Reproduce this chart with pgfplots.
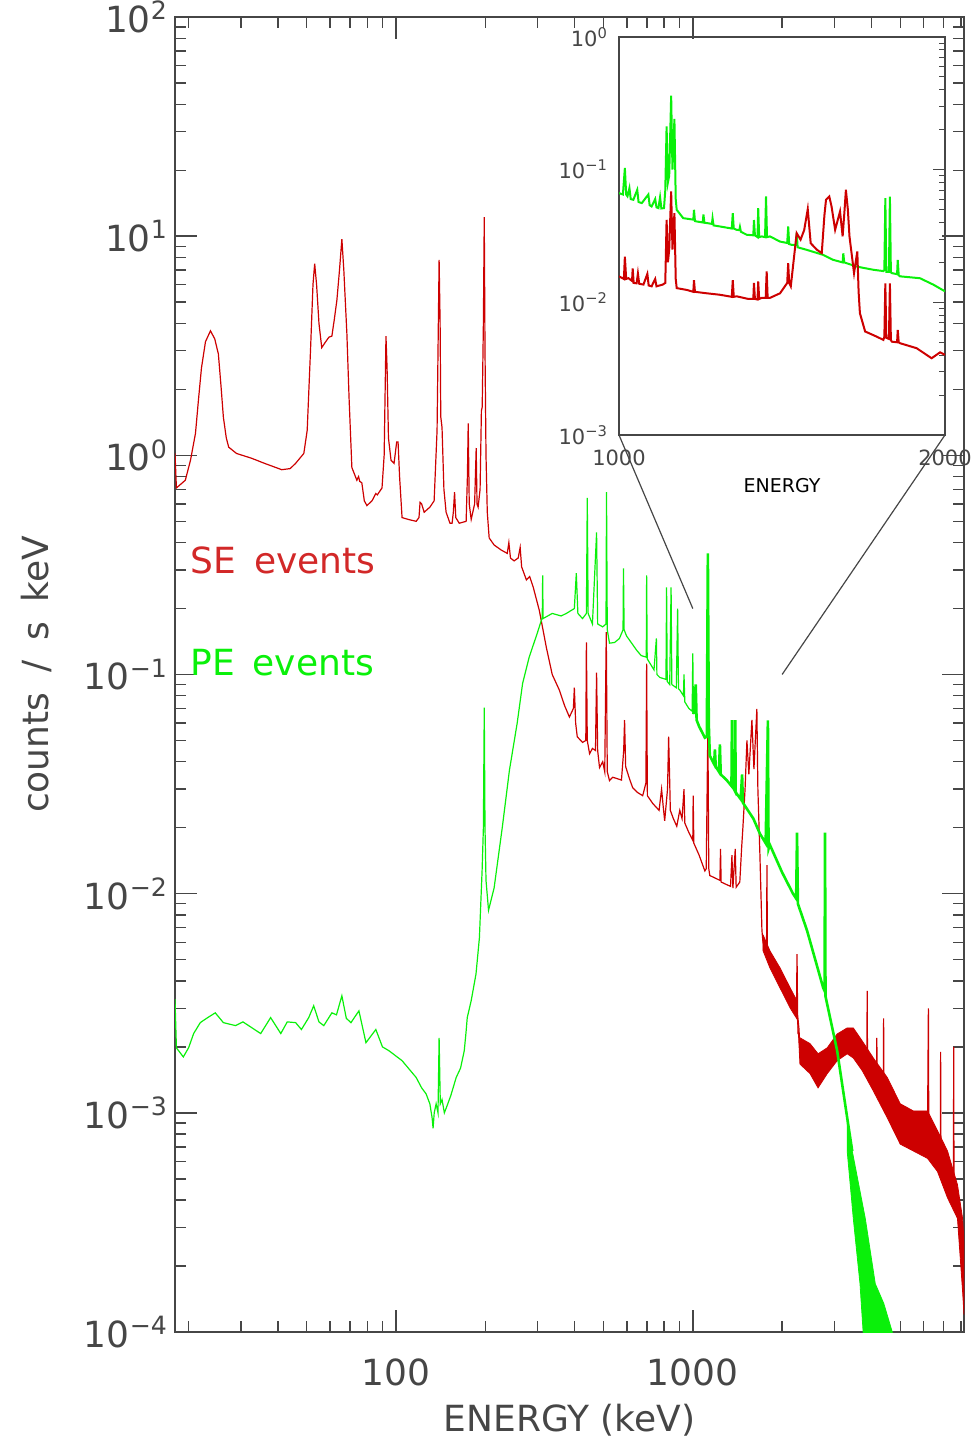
\documentclass[border=0pt]{standalone}
\usepackage{fontspec}
\setmainfont{DejaVu Sans}
\usepackage{pgfplots}
\pgfplotsset{compat=1.18}
\definecolor{sered}{RGB}{205,0,0}
\definecolor{setext}{RGB}{210,40,40}
\definecolor{pegreen}{RGB}{10,240,10}
\definecolor{axgray}{RGB}{70,70,70}

\begin{document}
\begin{tikzpicture}
\path[use as bounding box] (-87.5pt,-55pt) rectangle (401.5pt,666pt);

\begin{axis}[
  name=main,
  at={(0,0)}, anchor=south west,
  width=394.5pt, height=657.5pt, scale only axis,
  xmode=log, ymode=log,
  xmin=18, xmax=8200, ymin=1e-4, ymax=100,
  axis line style={axgray, line width=0.8pt},
  tick align=inside,
  major tick length=11pt, minor tick length=5.5pt,
  tick style={axgray, line width=0.7pt},
  xtick={100,1000}, xticklabels={100,1000},
  minor xtick={20,30,40,50,60,70,80,90,200,300,400,500,600,700,800,900,2000,3000,4000,5000,6000,7000,8000},
  ytick={1e-4,1e-3,0.01,0.1,1,10,100},
  yticklabels={10\textsuperscript{−4},10\textsuperscript{−3},10\textsuperscript{−2},10\textsuperscript{−1},10\textsuperscript{0},10\textsuperscript{1},10\textsuperscript{2}},
  minor ytick={2e-4,3e-4,4e-4,5e-4,6e-4,7e-4,8e-4,9e-4,
    0.002,0.003,0.004,0.005,0.006,0.007,0.008,0.009,
    0.02,0.03,0.04,0.05,0.06,0.07,0.08,0.09,
    0.2,0.3,0.4,0.5,0.6,0.7,0.8,0.9,
    2,3,4,5,6,7,8,9,20,30,40,50,60,70,80,90},
  ticklabel style={font=\fontsize{18}{20}\selectfont, text=axgray},
  xticklabel style={yshift=-10pt},
  xlabel={ENERGY (keV)}, ylabel={counts\hspace{0.55em}/\hspace{0.55em}s\hspace{0.55em}keV},
  label style={font=\fontsize{18}{20}\selectfont, text=axgray},
  xlabel style={at={(axis description cs:0.5,-0.067)}, anchor=center},
  ylabel style={at={(axis description cs:-0.175,0.5)}, anchor=center},
]

% SE events
\addplot[sered, line width=0.6pt] coordinates {
(18.0,1.02)(18.2,0.71)(19.5,0.77)(20.3,0.95)(21.1,1.26)(21.6,1.8)(22.1,2.5)(22.8,3.3)(23.7,3.7)(24.5,3.4)(25.2,2.9)(25.7,2.1)(26.2,1.49)(26.8,1.2)(27.3,1.09)(29,1.02)(32.6,0.97)(36,0.92)(41.2,0.86)(44,0.87)(45.9,0.92)(48.9,1.02)(50.2,1.3)(51.5,3)(52.5,6)(53.2,7.5)(54,6)(55,4)(56.2,3.1)(57.5,3.25)(59.4,3.46)(60.8,3.5)(62,4.2)(63.2,5.1)(64.5,7)(65.7,9.7)(66.7,7)(67.5,5)(68.3,3.6)(69.5,1.8)(71.0,0.88)(73.8,0.77)(74.8,0.8)(75.5,0.76)(76.7,0.75)(78.2,0.62)(79.8,0.59)(83,0.62)(85.5,0.67)(86.5,0.66)(89.7,0.71)(91.2,1.0)(92.5,3.5)(93.3,2.5)(94.3,1.2)(96.2,0.95)(98.5,0.92)(100.5,1.15)(101.6,1.15)(102.8,0.8)(104.8,0.52)(110,0.51)(116.9,0.50)(119.5,0.52)(120.5,0.61)(122,0.60)(124.4,0.55)(130,0.58)(134.4,0.62)(137.5,1.3)(139.7,7.8)(140.8,4)(141.5,1.5)(142.9,1.34)(145,0.7)(147.5,0.55)(152,0.49)(154.5,0.49)(156,0.55)(157.5,0.68)(159,0.52)(163.3,0.49)(172.3,0.50)(174,0.8)(175.1,1.40)(176.5,0.6)(179.2,0.51)(184,0.6)(186.3,1.08)(187.5,0.6)(189.1,0.58)(192,0.7)(194,1.6)(195.2,1.66)(197,4)(198.3,12.2)(199.5,3)(201,1)(203,0.55)(206,0.42)(214,0.39)(226,0.37)(237,0.357)(240,0.40)(243,0.34)(250,0.33)(258,0.34)(262,0.38)(265,0.31)(275,0.27)(282,0.28)(290,0.25)(304,0.196)(321,0.133)(336,0.10)(355,0.085)(370,0.072)(384,0.064)(396,0.07)(399,0.087)(403,0.06)(408,0.052)(425,0.049)(436,0.05)(438,0.14)(441,0.05)(449,0.0435)(459,0.046)(470,0.045)(474,0.102)(478,0.045)(485,0.0376)(497,0.040)(505,0.036)(511,0.156)(515,0.036)(524,0.0328)(537,0.034)(575,0.033)(585,0.045)(589,0.062)(594,0.038)(612,0.0334)(627,0.0305)(650,0.029)(678,0.028)(695,0.032)(699,0.112)(703,0.028)(733,0.0258)(770,0.024)(785,0.030)(795,0.025)(804,0.0215)(822,0.030)(829,0.052)(835,0.035)(840,0.024)(860,0.022)(883,0.0203)(904,0.024)(920,0.022)(934,0.030)(940,0.021)(970,0.019)(1000,0.0175)(1003,0.028)(1008,0.017)(1050,0.015)(1098,0.0127)(1110,0.013)(1124,0.058)(1132,0.013)(1141,0.0121)(1187,0.0118)(1234,0.0115)(1240,0.016)(1246,0.0113)(1300,0.011)(1340,0.0108)(1355,0.015)(1365,0.0106)(1390,0.016)(1400,0.0107)(1440,0.0113)(1460,0.016)(1475,0.020)(1500,0.030)(1522,0.050)(1545,0.035)(1582,0.062)(1607,0.037)(1644,0.0696)(1657,0.030)(1683,0.0152)(1710,0.0068)(1724,0.006)
};
% SE noise band at high energy
\addplot[sered, fill=sered, line width=0.4pt] coordinates {
(1724,0.0065)(1819,0.00549)(1967,0.00459)(2128,0.00372)(2245,0.00324)(2260,0.0023)(2296,0.0022)(2483,0.00207)(2643,0.00186)(2838,0.00198)(3065,0.00229)(3313,0.00244)(3474,0.00244)(3722,0.00213)(4057,0.00178)(4521,0.00145)(5000,0.0011)(5536,0.00102)(6178,0.00102)(6675,0.00083)(7214,0.00067)(7796,0.00047)(8110,0.00033)(8200,0.00026)
(8200,0.00012)(8110,0.000154)(7796,0.00033)(7214,0.00041)(6675,0.00054)(6178,0.00062)(5536,0.00067)(5000,0.00072)(4521,0.00095)(4057,0.00126)(3722,0.00156)(3474,0.00178)(3313,0.00186)(3065,0.00173)(2838,0.00151)(2643,0.0013)(2483,0.00151)(2296,0.00167)(2260,0.0026)(2245,0.00268)(2128,0.00301)(1967,0.00372)(1819,0.00459)(1724,0.0055)(1724,0.0065)
};
\addplot[sered, line width=0.6pt] coordinates {
(1724,0.006)(1740,0.0058)(1772,0.0056)(1778,0.0135)(1784,0.0054)(1819,0.0050)(1967,0.0041)(2128,0.0033)(2235,0.0029)(2245,0.0053)(2255,0.0028)(2280,0.0024)(2296,0.0019)(2483,0.00177)(2643,0.00156)(2838,0.00165)(3065,0.00196)(3313,0.00208)(3474,0.00208)(3722,0.0019)(3860,0.0017)(3870,0.0036)(3880,0.0016)(4057,0.00145)(4160,0.0013)(4170,0.0022)(4180,0.0013)(4386,0.0012)(4395,0.0027)(4405,0.0012)(4521,0.00115)(5000,0.00088)(5536,0.00082)(6178,0.0008)(6221,0.003)(6240,0.00078)(6675,0.00066)(6829,0.0006)(6840,0.0019)(6860,0.0006)(7214,0.00050)(7555,0.00042)(7570,0.002)(7590,0.00042)(7796,0.00036)(8110,0.00019)(8200,0.00014)
};

% PE events
\addplot[pegreen, line width=0.6pt] coordinates {
(18.0,0.0033)(18.2,0.00198)(19.2,0.0018)(20.0,0.00198)(20.8,0.0023)(21.9,0.00258)(23,0.0027)(24.6,0.00286)(26.2,0.00258)(28.8,0.0025)(30.5,0.0026)(32.6,0.00245)(35.0,0.0023)(37.8,0.00272)(40.9,0.0023)(43,0.0026)(45.9,0.00258)(48,0.0024)(50.8,0.00272)(52.8,0.00308)(55,0.0026)(57.1,0.0025)(60.8,0.00286)(63,0.0028)(65.7,0.00342)(68,0.0027)(70.5,0.00258)(75.0,0.00292)(79.2,0.00209)(85.5,0.0024)(90,0.002)(94.7,0.00192)(104.8,0.00173)(110,0.0016)(116.9,0.00145)(122,0.0013)(126.3,0.00122)(130,0.0011)(132.3,0.00095)(133.3,0.00085)(134.5,0.001)(136.5,0.0011)(138.5,0.001)(139.7,0.0022)(141,0.0011)(142.9,0.00115)(145.5,0.001)(148.7,0.00108)(153,0.0012)(159.5,0.00145)(165,0.0016)(169.8,0.00192)(172,0.0023)(173.8,0.00272)(179.2,0.00325)(186,0.0043)(191,0.0063)(195,0.0127)(197,0.02)(198.3,0.0706)(199.5,0.02)(201,0.0115)(205,0.0084)(214,0.0106)(228,0.020)(241,0.0365)(256,0.060)(267,0.091)(281,0.12)(299,0.154)(311,0.182)(312,0.283)(313,0.18)(336,0.19)(360,0.185)(375,0.19)(399,0.20)(405,0.29)(410,0.19)(425,0.18)(438,0.19)(441,0.64)(444,0.19)(459,0.17)(474,0.445)(478,0.17)(497,0.165)(510,0.17)(512,0.68)(515,0.16)(524,0.139)(545,0.14)(566,0.146)(582,0.16)(584,0.305)(587,0.16)(598,0.15)(620,0.14)(647,0.129)(670,0.122)(697,0.12)(699,0.283)(702,0.118)(740,0.105)(754,0.146)(757,0.1)(774,0.097)(812,0.095)(816,0.25)(820,0.093)(836,0.09)(845,0.25)(850,0.09)(880,0.087)(889,0.20)(895,0.086)(904,0.085)(930,0.08)(934,0.10)(940,0.075)(970,0.07)(995,0.068)(1000,0.125)(1005,0.066)
};
\addplot[pegreen, line width=1.3pt] coordinates {
(1005,0.066)(1023,0.09)(1030,0.062)(1050,0.058)(1098,0.0515)(1115,0.052)(1124,0.357)(1132,0.06)(1141,0.0426)(1180,0.039)(1187,0.0455)(1195,0.038)(1225,0.036)(1234,0.048)(1242,0.035)(1300,0.033)(1350,0.031)(1355,0.062)(1360,0.031)(1385,0.0295)(1390,0.062)(1395,0.029)(1450,0.027)(1466,0.035)(1475,0.026)(1600,0.022)(1683,0.0188)(1760,0.017)(1791,0.0617)(1800,0.016)(1819,0.0167)(2000,0.0125)(2176,0.0100)(2230,0.0095)(2245,0.019)(2260,0.009)(2427,0.00678)(2750,0.00372)(2780,0.0036)(2790,0.019)(2800,0.0034)(3065,0.00192)(3313,0.00095)(3445,0.00067)
};
\addplot[pegreen, fill=pegreen, line width=0.4pt] coordinates {
(3313,0.00095)(3445,0.00067)(3812,0.00033)(4120,0.000166)(4400,0.000135)(4700,0.0001)(4700,0.00008)(3790,0.00008)(3660,0.000166)(3474,0.00033)(3313,0.00067)(3313,0.00095)
};

\node[anchor=west, inner sep=0pt, text=setext, font=\fontsize{18}{20}\selectfont] at (axis description cs:0.019,0.587) {SE\hspace{0.5em}events};
\node[anchor=west, inner sep=0pt, text=pegreen, font=\fontsize{18}{20}\selectfont] at (axis description cs:0.019,0.509) {PE\hspace{0.5em}events};

\coordinate (c1) at (axis cs:1000,0.2);
\coordinate (c2) at (axis cs:2000,0.1);
\end{axis}

\begin{axis}[
  name=inset,
  at={(222pt,448.5pt)}, anchor=south west,
  width=163pt, height=199pt, scale only axis,
  ymode=log,
  xmin=1000, xmax=2000, ymin=1e-3, ymax=1,
  axis line style={axgray, line width=0.6pt},
  tick align=inside,
  major tick length=6pt, minor tick length=3pt,
  tick style={axgray, line width=0.5pt},
  xtick={1000,2000}, xticklabels={1000,2000},
  ytick={1e-3,0.01,0.1,1},
  yticklabels={10\textsuperscript{−3},10\textsuperscript{−2},10\textsuperscript{−1},10\textsuperscript{0}},
  minor ytick={0.002,0.003,0.004,0.005,0.006,0.007,0.008,0.009,
    0.02,0.03,0.04,0.05,0.06,0.07,0.08,0.09,
    0.2,0.3,0.4,0.5,0.6,0.7,0.8,0.9},
  ytick pos=right, yticklabel pos=left,
  ticklabel style={font=\fontsize{10.5}{12}\selectfont, text=axgray},
  xticklabel style={yshift=-4pt},
  yticklabel style={xshift=-2pt},
  xlabel={ENERGY},
  xlabel style={font=\fontsize{9.5}{11}\selectfont, text=black, at={(axis description cs:0.5,-0.126)}, anchor=center},
]
\addplot[pegreen, line width=1pt] coordinates {
(1000,0.0666)(1012,0.065)(1018,0.103)(1022,0.065)(1026,0.063)(1032,0.0726)(1036,0.06)(1044,0.0593)(1056,0.0705)(1060,0.057)(1070,0.056)(1090,0.065)(1094,0.054)(1100,0.0528)(1111,0.06)(1115,0.052)(1121,0.0513)(1126,0.062)(1130,0.051)(1138,0.0513)(1142,0.07)(1146,0.212)(1150,0.08)(1154,0.09)(1160,0.361)(1164,0.1)(1170,0.241)(1174,0.06)(1177,0.0498)(1197,0.0431)(1228,0.042)(1230,0.0498)(1233,0.041)(1238,0.0407)(1257,0.04)(1259,0.046)(1262,0.0398)(1269,0.0396)(1285,0.039)(1287,0.043)(1290,0.038)(1310,0.0373)(1346,0.036)(1349,0.047)(1352,0.036)(1361,0.0352)(1369,0.035)(1371,0.037)(1374,0.034)(1392,0.0323)(1412,0.032)(1414,0.0417)(1417,0.032)(1425,0.031)(1427,0.0513)(1430,0.031)(1438,0.0314)(1448,0.031)(1451,0.0628)(1454,0.031)(1463,0.0314)(1494,0.0287)(1516,0.028)(1519,0.0373)(1522,0.0275)(1530,0.0271)(1543,0.027)(1545,0.0334)(1548,0.026)(1575,0.0249)(1626,0.0228)(1657,0.0209)(1686,0.02)(1688,0.0234)(1691,0.02)(1729,0.0186)(1780,0.0176)(1811,0.0172)(1814,0.0175)(1817,0.061)(1820,0.017)(1828,0.017)(1831,0.0627)(1834,0.0168)(1837,0.0166)(1853,0.0163)(1855,0.0209)(1858,0.016)(1862,0.0157)(1923,0.0152)(1964,0.0136)(2000,0.0121)
};
\addplot[sered, line width=1pt] coordinates {
(1000,0.0157)(1015,0.015)(1018,0.0221)(1022,0.015)(1029,0.0152)(1040,0.0145)(1042,0.018)(1045,0.014)(1054,0.0139)(1058,0.0165)(1062,0.0138)(1075,0.0136)(1087,0.0164)(1091,0.0134)(1100,0.0132)(1111,0.0150)(1115,0.0132)(1134,0.0136)(1142,0.014)(1146,0.0419)(1150,0.02)(1154,0.025)(1160,0.0686)(1164,0.025)(1170,0.047)(1174,0.015)(1177,0.0128)(1208,0.0124)(1228,0.012)(1230,0.0147)(1233,0.012)(1269,0.0117)(1310,0.0114)(1346,0.011)(1349,0.0147)(1352,0.011)(1361,0.0111)(1397,0.0106)(1412,0.0106)(1414,0.0140)(1417,0.0106)(1425,0.0105)(1427,0.0144)(1430,0.0106)(1438,0.0108)(1450,0.0108)(1453,0.0171)(1456,0.0108)(1463,0.0108)(1494,0.0117)(1516,0.014)(1519,0.0197)(1522,0.014)(1527,0.0132)(1545,0.0332)(1557,0.0297)(1568,0.035)(1579,0.0504)(1588,0.0279)(1607,0.0249)(1622,0.0235)(1630,0.045)(1635,0.0593)(1645,0.0628)(1652,0.0528)(1663,0.0352)(1678,0.0484)(1686,0.0314)(1692,0.05)(1696,0.0705)(1702,0.05)(1707,0.0314)(1721,0.0166)(1731,0.0242)(1735,0.012)(1739,0.00828)(1755,0.00603)(1790,0.00552)(1811,0.00521)(1814,0.0055)(1817,0.0139)(1820,0.0054)(1828,0.0053)(1831,0.0139)(1834,0.0052)(1837,0.00505)(1853,0.005)(1855,0.0062)(1858,0.005)(1862,0.00492)(1913,0.00451)(1959,0.00379)(1985,0.0042)(2000,0.00402)
};
\end{axis}

\draw[axgray, line width=0.6pt] (c1) -- (inset.south west);
\draw[axgray, line width=0.6pt] (c2) -- (inset.south east);
\end{tikzpicture}
\end{document}
